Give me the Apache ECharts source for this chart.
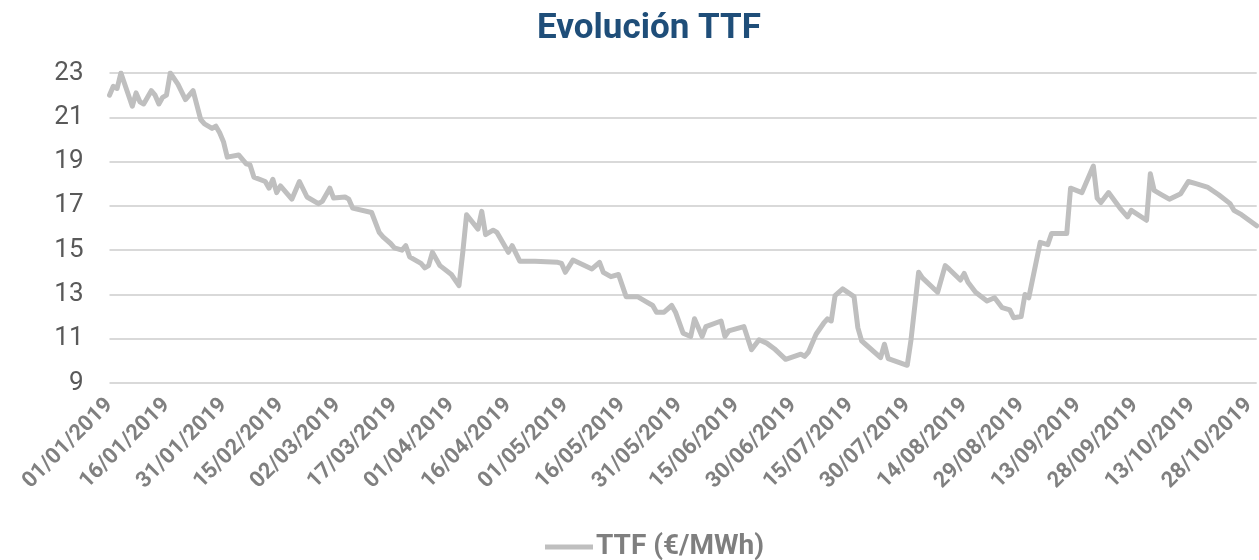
<!DOCTYPE html>
<html>
<head>
<meta charset="utf-8">
<script src="https://cdn.jsdelivr.net/npm/echarts@6.0.0/dist/echarts.min.js"></script>
<style>
html,body{margin:0;padding:0;background:#ffffff;}
#chart{width:1259px;height:560px;}
</style>
</head>
<body>
<div id="chart"></div>
<script>
// ---- data ----
const chartTitle = 'Evolución TTF';
const seriesName = 'TTF (€/MWh)';
const startDate = '01/01/2019';
const endDate = '30/10/2019';
const labelStepDays = 15;
const yTicks = [9, 11, 13, 15, 17, 19, 21, 23];

const dates = [
  '01/01/2019','02/01/2019','03/01/2019','04/01/2019','07/01/2019','08/01/2019','09/01/2019','10/01/2019',
  '12/01/2019','13/01/2019','14/01/2019','15/01/2019','16/01/2019','17/01/2019','19/01/2019','21/01/2019',
  '23/01/2019','25/01/2019','26/01/2019','28/01/2019','29/01/2019','30/01/2019','31/01/2019','01/02/2019',
  '04/02/2019','06/02/2019','07/02/2019','08/02/2019','11/02/2019','12/02/2019','13/02/2019','14/02/2019',
  '15/02/2019','18/02/2019','20/02/2019','22/02/2019','25/02/2019','26/02/2019','28/02/2019','01/03/2019',
  '04/03/2019','05/03/2019','06/03/2019','11/03/2019','13/03/2019','14/03/2019','16/03/2019','17/03/2019',
  '19/03/2019','20/03/2019','21/03/2019','24/03/2019','25/03/2019','26/03/2019','27/03/2019','29/03/2019',
  '01/04/2019','03/04/2019','04/04/2019','05/04/2019','08/04/2019','09/04/2019','10/04/2019','12/04/2019',
  '13/04/2019','16/04/2019','17/04/2019','19/04/2019','23/04/2019','29/04/2019','30/04/2019','01/05/2019',
  '03/05/2019','08/05/2019','10/05/2019','11/05/2019','13/05/2019','15/05/2019','17/05/2019','20/05/2019',
  '22/05/2019','24/05/2019','25/05/2019','27/05/2019','29/05/2019','30/05/2019','01/06/2019','03/06/2019',
  '04/06/2019','06/06/2019','07/06/2019','11/06/2019','12/06/2019','13/06/2019','17/06/2019','19/06/2019',
  '21/06/2019','23/06/2019','25/06/2019','28/06/2019','02/07/2019','03/07/2019','04/07/2019','06/07/2019',
  '08/07/2019','09/07/2019','10/07/2019','11/07/2019','13/07/2019','16/07/2019','17/07/2019','18/07/2019',
  '19/07/2019','23/07/2019','24/07/2019','25/07/2019','30/07/2019','31/07/2019','02/08/2019','03/08/2019',
  '07/08/2019','09/08/2019','10/08/2019','13/08/2019','14/08/2019','15/08/2019','17/08/2019','20/08/2019',
  '22/08/2019','24/08/2019','26/08/2019','27/08/2019','29/08/2019','30/08/2019','31/08/2019','03/09/2019',
  '05/09/2019','06/09/2019','10/09/2019','11/09/2019','14/09/2019','17/09/2019','18/09/2019','19/09/2019',
  '21/09/2019','24/09/2019','26/09/2019','27/09/2019','01/10/2019','02/10/2019','03/10/2019','05/10/2019',
  '07/10/2019','10/10/2019','12/10/2019','14/10/2019','17/10/2019','20/10/2019','23/10/2019','24/10/2019',
  '26/10/2019','28/10/2019','30/10/2019'
];

const ttf = [
  22.0, 22.4, 22.3, 23.0, 21.5, 22.1, 21.7, 21.6,
  22.2, 22.0, 21.6, 21.9, 22.0, 23.0, 22.5, 21.8,
  22.2, 20.9, 20.7, 20.5, 20.6, 20.3, 19.9, 19.2,
  19.3, 18.9, 18.85, 18.3, 18.1, 17.8, 18.2, 17.6,
  17.9, 17.3, 18.1, 17.4, 17.1, 17.2, 17.8, 17.35,
  17.4, 17.3, 16.9, 16.7, 15.8, 15.6, 15.3, 15.1,
  15.0, 15.2, 14.7, 14.4, 14.2, 14.3, 14.9, 14.3,
  13.9, 13.4, 14.9, 16.6, 15.95, 16.75, 15.7, 15.9,
  15.8, 14.9, 15.2, 14.5, 14.5, 14.45, 14.4, 14.0,
  14.55, 14.15, 14.45, 14.0, 13.8, 13.9, 12.9, 12.9,
  12.7, 12.5, 12.2, 12.2, 12.5, 12.2, 11.25, 11.1,
  11.9, 11.1, 11.55, 11.8, 11.1, 11.35, 11.55, 10.5,
  10.95, 10.8, 10.55, 10.07, 10.3, 10.2, 10.4, 11.2,
  11.7, 11.9, 11.8, 12.95, 13.25, 12.9, 11.5, 10.9,
  10.75, 10.15, 10.75, 10.1, 9.8, 10.95, 14.0, 13.75,
  13.1, 14.3, 14.15, 13.65, 13.95, 13.55, 13.1, 12.7,
  12.85, 12.4, 12.3, 11.95, 12.0, 13.0, 12.85, 15.35,
  15.25, 15.75, 15.75, 17.8, 17.6, 18.8, 17.35, 17.15,
  17.6, 16.9, 16.5, 16.8, 16.35, 18.45, 17.7, 17.5,
  17.3, 17.55, 18.1, 18.0, 17.85, 17.5, 17.1, 16.8,
  16.6, 16.35, 16.1
];

// ---- helpers ----
const DAY = 86400000;
function parseDate(s) {
  const p = s.split('/');
  return Date.UTC(+p[2], +p[1] - 1, +p[0]);
}
const t0 = parseDate(startDate);
const dayIndex = s => Math.round((parseDate(s) - t0) / DAY);
const lastDay = dayIndex(endDate);
function fmtDay(d) {
  const dt = new Date(t0 + d * DAY);
  const dd = String(dt.getUTCDate()).padStart(2, '0');
  const mm = String(dt.getUTCMonth() + 1).padStart(2, '0');
  return dd + '/' + mm + '/' + dt.getUTCFullYear();
}
const points = dates.map((d, i) => [dayIndex(d), ttf[i]]);

const chart = echarts.init(document.getElementById('chart'), null, { renderer: 'canvas' });
chart.setOption({
  backgroundColor: '#ffffff',
  animation: false,
  textStyle: { fontFamily: 'Roboto' },
  title: {
    text: chartTitle,
    left: 649,
    textAlign: 'center',
    top: 12,
    padding: 0,
    textStyle: { fontFamily: 'Roboto', fontWeight: 'bold', fontSize: 35, color: '#1f4e79' }
  },
  legend: {
    data: [seriesName],
    left: 545,
    top: 533,
    padding: 0,
    itemWidth: 48,
    itemHeight: 5,
    itemGap: 10,
    icon: 'rect',
    itemStyle: { color: '#bfbfbf' },
    textStyle: { fontFamily: 'Roboto', fontWeight: 'bold', fontSize: 28, color: '#7f7f7f', padding: [0, 0, 0, -2] }
  },
  grid: { left: 109.5, right: 0, top: 73, bottom: 177, containLabel: false },
  xAxis: {
    type: 'value',
    min: 0,
    max: lastDay,
    interval: labelStepDays,
    axisLine: { show: false },
    axisTick: { show: false },
    splitLine: { show: false },
    axisLabel: {
      rotate: 45,
      margin: 19,
      fontFamily: 'Roboto',
      fontWeight: 'bold',
      fontSize: 22,
      color: '#808080',
      showMaxLabel: false,
      formatter: v => (v % labelStepDays === 0 ? fmtDay(v) : '')
    }
  },
  yAxis: {
    type: 'value',
    min: yTicks[0],
    max: yTicks[yTicks.length - 1],
    interval: yTicks[1] - yTicks[0],
    axisLine: { show: false },
    axisTick: { show: false },
    axisLabel: { margin: 26, fontFamily: 'Roboto', fontSize: 26, color: '#595959' },
    splitLine: { lineStyle: { color: '#d9d9d9', width: 2 } }
  },
  series: [{
    name: seriesName,
    type: 'line',
    data: points,
    symbol: 'none',
    smooth: false,
    lineStyle: { color: '#bfbfbf', width: 5, join: 'round', cap: 'round' },
    itemStyle: { color: '#bfbfbf' }
  }]
});
</script>
</body>
</html>
